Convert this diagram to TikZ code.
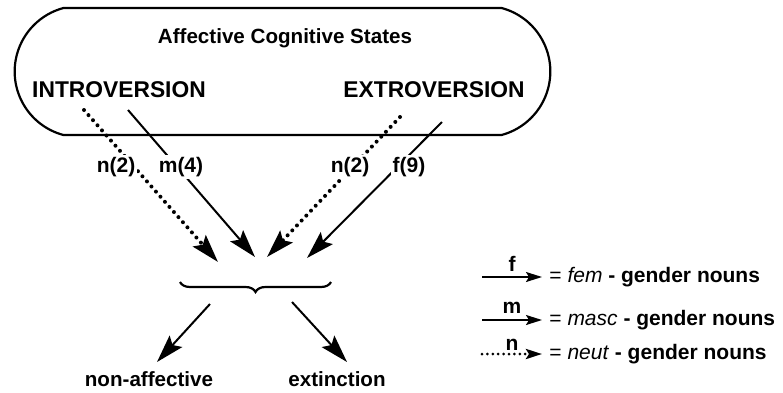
\documentclass[tikz,border=0pt]{standalone}
\usepackage{fontspec}
\setmainfont{Liberation Sans}
\usepackage{tikz}
\usetikzlibrary{shapes,positioning,calc}
\usetikzlibrary{shapes.misc}
\usetikzlibrary{arrows.meta}
\usetikzlibrary{decorations.pathreplacing}
\tikzstyle{gendarrow} = [line width=1pt,-{Stealth[length=14pt,width=8.5pt,inset=2.5pt]}]
\tikzstyle{neutarrow} = [gendarrow, line width=2pt, line cap=round, dash pattern=on 0pt off 3.4pt]
\tikzstyle{keyarrow} = [line width=0.8pt,-{Stealth[length=8pt,width=5pt,inset=1.5pt]}]
\tikzstyle{keyneut} = [keyarrow, line width=1.5pt, line cap=round, dash pattern=on 0pt off 2.7pt]

\begin{document}
\begin{tikzpicture}[x=0.5pt, y=-0.5pt,
	lbl/.style={font=\bfseries\fontsize{10.5}{12}\selectfont, fill=white, inner sep=1pt},
	title/.style={font=\bfseries\fontsize{11.4}{13}\selectfont},
	keytext/.style={anchor=west, font=\fontsize{10.5}{12}\selectfont, inner sep=0pt}]
	
	\useasboundingbox (0,0) rectangle (783,392);
	
	% STATES
	
	\node [rounded rectangle, rounded rectangle arc length=150, draw, line width=1.1pt, minimum width=274.5pt, minimum height=63.5pt] (states) at (282.5,71.5) {};
	\node [font=\bfseries\fontsize{10.3}{12}\selectfont] (statestitle) at (285,38) {Affective Cognitive States};
	\node [title] (intro) at (119,90) {INTROVERSION};
	\node [title] (extro) at (434,90) {EXTROVERSION};
	
	% GENDER ARROWS
	
	\coordinate (in-n-a) at (84,110);   \coordinate (in-n-b) at (218,262);
	\coordinate (in-m-a) at (128,110);  \coordinate (in-m-b) at (255,257);
	\coordinate (ex-n-a) at (400,117);  \coordinate (ex-n-b) at (267,257);
	\coordinate (ex-f-a) at (442,122);  \coordinate (ex-f-b) at (307,258);
	
	\draw [neutarrow] (in-n-a) -- (in-n-b);
	\draw [gendarrow] (in-m-a) -- (in-m-b);
	\draw [neutarrow] (ex-n-a) -- (ex-n-b);
	\draw [gendarrow] (ex-f-a) -- (ex-f-b);
	
	\node [lbl] (in-n-lbl) at (116,167) {n(2)};
	\node [lbl] (in-m-lbl) at (181,167) {m(4)};
	\node [lbl] (ex-n-lbl) at (350,167) {n(2)};
	\node [lbl] (ex-f-lbl) at (409,167) {f(9)};
	
	% BRACE AND OUTCOMES
	
	\coordinate (brace-l) at (180,282);
	\coordinate (brace-r) at (331,282);
	\draw [decorate, decoration={brace, mirror, amplitude=5pt}, line width=1.1pt] (brace-l) -- (brace-r);
	
	\node [font=\bfseries\fontsize{10.3}{12}\selectfont] (nonaff) at (149,379) {non-affective};
	\node [font=\bfseries\fontsize{10.3}{12}\selectfont] (extinct) at (337,379) {extinction};
	
	\coordinate (out-l-a) at (210,304);  \coordinate (out-l-b) at (157,362);
	\coordinate (out-r-a) at (292,302);  \coordinate (out-r-b) at (347,362);
	\draw [gendarrow] (out-l-a) -- (out-l-b);
	\draw [gendarrow] (out-r-a) -- (out-r-b);
	
	% KEY
	
	\coordinate (key-f-a) at (482,277);  \coordinate (key-f-b) at (542,277);
	\coordinate (key-m-a) at (482,320);  \coordinate (key-m-b) at (542,320);
	\coordinate (key-n-a) at (482,354);  \coordinate (key-n-b) at (542,354);
	
	\draw [keyarrow] (key-f-a) -- node [above=2.5pt, inner sep=0pt, font=\bfseries\fontsize{10.5}{12}\selectfont] (key-f-lbl) {f} (key-f-b);
	\draw [keyarrow] (key-m-a) -- node [above=3pt, inner sep=0pt, font=\bfseries\fontsize{10.5}{12}\selectfont] (key-m-lbl) {m} (key-m-b);
	\draw [keyneut] (key-n-a) -- node [above=1pt, inner sep=0pt, font=\bfseries\fontsize{10.5}{12}\selectfont] (key-n-lbl) {n} (key-n-b);
	
	\node [keytext] (key-f-txt) at (549,277) {= \textit{fem} \textbf{- gender nouns}};
	\node [keytext] (key-m-txt) at (549,320) {= \textit{masc} \textbf{- gender nouns}};
	\node [keytext] (key-n-txt) at (549,354) {= \textit{neut} \textbf{- gender nouns}};
	
\end{tikzpicture}
\end{document}
